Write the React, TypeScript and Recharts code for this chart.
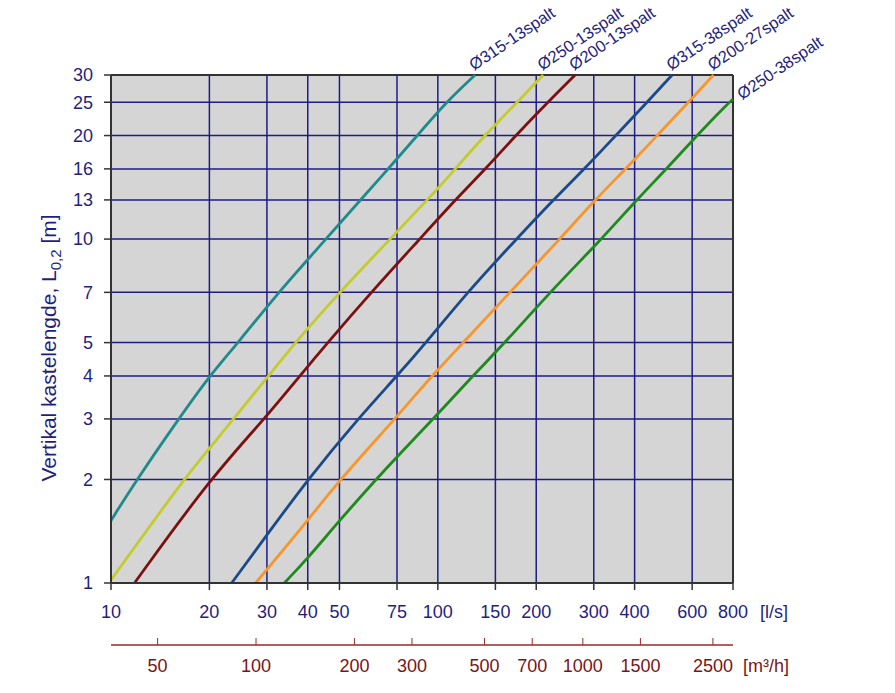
import React from 'react';
import { LineChart, Line, XAxis, YAxis, CartesianGrid, ReferenceLine, Label } from 'recharts';

// Axis ticks
const flowTicks = [10, 20, 30, 40, 50, 75, 100, 150, 200, 300, 400, 600, 800]; // l/s
const airTicks = [50, 100, 200, 300, 500, 700, 1000, 1500, 2500]; // m³/h
const lengthTicks = [1, 2, 3, 4, 5, 7, 10, 13, 16, 20, 25, 30]; // m
const M3H_PER_LS = 3.6;

// Curves: flow (l/s) and throw length L0,2 (m)
const q315_13 = [10, 12, 16.1, 20, 24.5, 32.5, 45.5, 58, 70.5, 86.5, 106, 130];
const L315_13 = [1.52, 2, 3, 4, 5, 7, 10, 13, 16, 20, 25, 30];

const q250_13 = [10, 16.65, 20, 23.7, 30.3, 36.6, 50, 71.4, 100, 113, 139, 175, 210];
const L250_13 = [1.02, 2, 2.46, 3, 4, 5, 7, 10, 14, 16, 20, 25, 30];

const q200_13 = [11.8, 20, 29.5, 37.8, 46, 62.5, 88, 113, 140, 173, 217, 263];
const L200_13 = [1, 2, 3, 4, 5, 7, 10, 13, 16, 20, 25, 30];

const q315_38 = [23.4, 30, 40, 56.9, 75, 92, 123, 174, 225.5, 281, 350, 437, 521];
const L315_38 = [1, 1.38, 2, 3, 4, 5, 7, 10, 13, 16, 20, 25, 30];

const q200_27 = [27.7, 40, 50.2, 74, 95.8, 119.7, 166, 236.5, 300, 376, 469, 585, 697];
const L200_27 = [1, 1.52, 2, 3, 4, 5, 7, 10, 12.9, 16, 20, 25, 30];

const q250_38 = [33.9, 40, 50, 64.7, 75, 96.9, 127.8, 160.6, 220, 317, 405.5, 501, 620, 779, 800];
const L250_38 = [1, 1.18, 1.52, 2, 2.33, 3, 4, 5, 7, 10, 13, 16, 20, 25, 25.5];

const seriesNames = ['Ø315-13spalt', 'Ø250-13spalt', 'Ø200-13spalt', 'Ø315-38spalt', 'Ø200-27spalt', 'Ø250-38spalt'];
const seriesColors = ['#1f8a8c', '#c3cc2c', '#7c1010', '#1a4a8a', '#f7962a', '#1e8a1e'];
const flows = [q315_13, q250_13, q200_13, q315_38, q200_27, q250_38];
const lengths = [L315_13, L250_13, L200_13, L315_38, L200_27, L250_38];

const series = seriesNames.map((name, i) => ({
  name,
  color: seriesColors[i],
  data: flows[i].map((q, j) => ({ q, L: lengths[i][j] })),
}));

const NAVY = '#1f1f80';
const DARKRED = '#7a1414';
const AXIS = '#333333';

// secondary m³/h axis: tick marks point up, labels below
const AirTick = (props: any) => {
  const { x, y, payload } = props;
  return (
    <g>
      <line x1={x} x2={x} y1={y - 7} y2={y} stroke="#9a2a2a" strokeWidth={1} />
      <text x={x} y={y + 27} textAnchor="middle" fill={DARKRED} fontSize={18}>
        {payload.value}
      </text>
    </g>
  );
};

const makeEndLabel = (name: string, last: number) => (props: any) => {
  const { cx, cy, index, payload } = props;
  if (index !== last) return <g key={`d-${index}`} />;
  const atTop = payload.L >= 30;
  const tx = atTop ? cx - 1 : cx + 9;
  const ty = atTop ? cy - 4 : cy + 1;
  return (
    <text key={`d-${index}`} x={tx} y={ty} transform={`rotate(-34 ${tx} ${ty})`} fill={NAVY} fontSize={16.5}>
      {name}
    </text>
  );
};

const renderYTitle = (props: any) => {
  const { viewBox } = props;
  const cx = viewBox.x + 5;
  const cy = viewBox.y + viewBox.height / 2 + 19;
  return (
    <text x={cx} y={cy} transform={`rotate(-90 ${cx} ${cy})`} textAnchor="middle" fill={NAVY} fontSize={21}>
      Vertikal kastelengde, L<tspan dy={5} fontSize={15}>0,2</tspan>
      <tspan dy={-5}> [m]</tspan>
    </text>
  );
};

const renderFlowUnit = (props: any) => {
  const { viewBox } = props;
  return (
    <text x={viewBox.x + viewBox.width + 27} y={viewBox.y + 35} fill={NAVY} fontSize={18}>
      [l/s]
    </text>
  );
};

const renderAirUnit = (props: any) => {
  const { viewBox } = props;
  return (
    <text x={viewBox.x + viewBox.width + 10} y={viewBox.y + 27} fill={DARKRED} fontSize={18}>
      [m³/h]
    </text>
  );
};

export default function App() {
  return (
    <div
      style={{
        position: 'absolute',
        left: 0,
        top: 0,
        width: 895,
        height: 693,
        background: '#fff',
        fontFamily: '"Liberation Sans", Arial, sans-serif',
      }}
    >
      <LineChart width={895} height={693} margin={{ top: 75, right: 162, left: 51, bottom: 8 }}>
        <CartesianGrid stroke="#1c1c84" strokeWidth={1.5} fill="#d5d5d5" fillOpacity={1} />
        <XAxis
          dataKey="q"
          type="number"
          scale="log"
          domain={[10, 800]}
          ticks={flowTicks}
          interval={0}
          height={62}
          tickSize={7}
          tickMargin={15}
          tick={{ fill: NAVY, fontSize: 18 }}
          axisLine={{ stroke: AXIS, strokeWidth: 2 }}
          tickLine={{ stroke: AXIS, strokeWidth: 1.5 }}
        >
          <Label content={renderFlowUnit} />
        </XAxis>
        <XAxis
          xAxisId="m3h"
          dataKey="q"
          type="number"
          scale="log"
          domain={[10 * M3H_PER_LS, 800 * M3H_PER_LS]}
          allowDataOverflow
          ticks={airTicks}
          interval={0}
          height={40}
          tickSize={0}
          tickMargin={0}
          tickLine={false}
          tick={(p: any) => <AirTick {...p} />}
          axisLine={{ stroke: '#9a2a2a', strokeWidth: 1.5 }}
        >
          <Label content={renderAirUnit} />
        </XAxis>
        <YAxis
          type="number"
          scale="log"
          domain={[1, 30]}
          ticks={lengthTicks}
          interval={0}
          width={60}
          tickSize={7}
          tickMargin={11}
          tick={{ fill: NAVY, fontSize: 18 }}
          axisLine={{ stroke: AXIS, strokeWidth: 2 }}
          tickLine={{ stroke: AXIS, strokeWidth: 1.5 }}
        >
          <Label content={renderYTitle} />
        </YAxis>
        <ReferenceLine y={30} stroke={AXIS} strokeWidth={2} />
        <ReferenceLine x={800} stroke={AXIS} strokeWidth={2} />
        {series.map((s) => (
          <Line
            key={s.name}
            name={s.name}
            data={s.data}
            dataKey="L"
            type="basis"
            stroke={s.color}
            strokeWidth={2.8}
            dot={makeEndLabel(s.name, s.data.length - 1)}
            activeDot={false}
            isAnimationActive={false}
          />
        ))}
      </LineChart>
    </div>
  );
}
